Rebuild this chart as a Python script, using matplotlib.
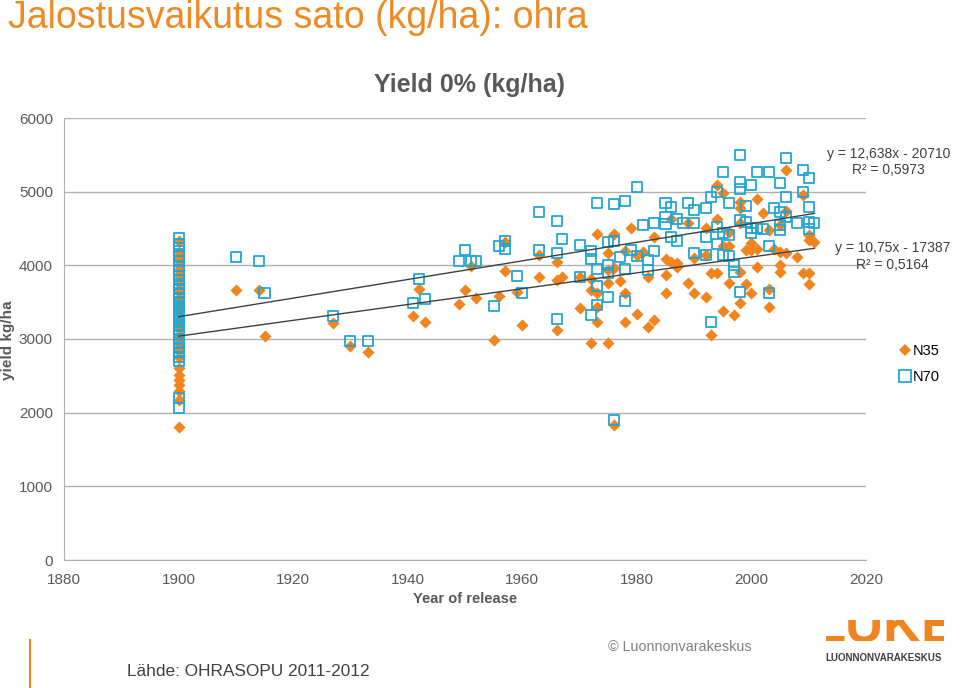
import matplotlib
matplotlib.use('Agg')
import matplotlib.pyplot as plt
from matplotlib.lines import Line2D
import numpy as np

plt.rcParams['font.family'] = ['Liberation Sans Narrow', 'Liberation Sans', 'DejaVu Sans']

# N35 (oranssit vinoneliöt)
n35_year = [1900] * 24 + [
    1910, 1914, 1915, 1927, 1930, 1933, 1941, 1942, 1943,
    1949, 1950, 1951, 1952, 1955, 1956, 1957, 1957, 1959, 1960,
    1963, 1963, 1966, 1966, 1966, 1967, 1970, 1970,
    1972, 1972, 1972, 1973, 1973, 1973, 1973,
    1975, 1975, 1975, 1975, 1976, 1976, 1976,
    1977, 1978, 1978, 1978, 1979, 1980, 1980, 1981, 1982, 1982, 1983, 1983,
    1985, 1985, 1985, 1986, 1986, 1987, 1987, 1989, 1989, 1990, 1990,
    1992, 1992, 1992, 1993, 1993, 1994, 1994, 1994, 1995, 1995, 1995,
    1996, 1996, 1996, 1997,
    1998, 1998, 1998, 1998, 1998, 1999, 1999, 2000, 2000, 2000,
    2001, 2001, 2001, 2002, 2003, 2003, 2003, 2004, 2005, 2005, 2005, 2005,
    2006, 2006, 2006, 2008, 2009, 2009, 2010, 2010, 2010, 2010, 2011]
n35_yield = [
    4330, 4180, 4100, 4000, 3935, 3870, 3760, 3650, 3550, 3450, 3350, 3250,
    3150, 3050, 2950, 2850, 2750, 2606, 2511, 2443, 2375, 2300, 2172, 1805,
    3665, 3665, 3040, 3217, 2905, 2823, 3312, 3678, 3230,
    3475, 3665, 3990, 3556, 2986, 3583, 4316, 3923, 3638, 3190,
    4140, 3841, 4045, 3801, 3122, 3841, 3841, 3421,
    3814, 3665, 2946, 4425, 3624, 3434, 3231,
    4167, 3936, 3760, 2946, 4425, 3964, 1832,
    3787, 4194, 3624, 3231, 4507, 4140, 3339, 4181, 3841, 3163, 4384, 3258,
    4086, 3868, 3624, 4629, 4045, 4031, 3977, 4574, 3760, 4099, 3624,
    4507, 4140, 3570, 3896, 3054, 5090, 4629, 3896, 4982, 4262, 3380,
    4452, 4262, 3760, 3325,
    4860, 4778, 4574, 3909, 3488, 4208, 3746, 4303, 4208, 3624,
    4900, 4221, 3977, 4710, 4480, 3678, 3434, 4221, 4547, 4181, 4004, 3909,
    5294, 4737, 4167, 4113, 4955, 3896, 4411, 4344, 3896, 3746, 4317]

# N70 (siniset neliöt)
n70_year = [1900] * 30 + [
    1910, 1914, 1915, 1927, 1930, 1933, 1941, 1942, 1943,
    1949, 1950, 1951, 1952, 1955, 1956, 1957, 1957, 1959, 1960,
    1963, 1963, 1966, 1966, 1966, 1967, 1970, 1970,
    1972, 1972, 1972, 1973, 1973, 1973, 1973,
    1975, 1975, 1975, 1975, 1976, 1976, 1976, 1977, 1978, 1978, 1978,
    1979, 1980, 1980, 1981, 1982, 1982, 1983, 1983,
    1985, 1985, 1985, 1986, 1986, 1987, 1987, 1988, 1989, 1990, 1990, 1990,
    1992, 1992, 1992, 1993, 1993, 1994, 1994, 1994, 1995, 1995, 1995,
    1996, 1996, 1996, 1997, 1997,
    1998, 1998, 1998, 1998, 1998, 1999, 1999, 2000, 2000, 2000,
    2001, 2001, 2002, 2003, 2003, 2003,
    2004, 2005, 2005, 2005, 2005, 2006, 2006, 2006, 2008, 2009, 2009,
    2010, 2010, 2010, 2010, 2011]
n70_yield = [
    4370, 4290, 4200, 4120, 4060, 3990, 3930, 3860, 3800, 3740, 3680, 3620,
    3560, 3500, 3450, 3390, 3340, 3280, 3230, 3170, 3120, 3060, 3000, 2940,
    2880, 2820, 2760, 2700, 2200, 2060,
    4113, 4059, 3624, 3312, 2973, 2973, 3488, 3814, 3543,
    4059, 4208, 4059, 4059, 3448, 4262, 4330, 4221, 3855, 3624,
    4724, 4208, 4602, 4167, 3271, 4357, 4276, 3841,
    4194, 4086, 3325, 4846, 3950, 3719, 3461,
    4317, 4004, 3896, 3570, 4832, 4330, 1900, 4113, 4873, 3950, 3516,
    4208, 5063, 4126, 4547, 4072, 3936, 4574, 4194,
    4846, 4656, 4561, 4792, 4384, 4629, 4330, 4574, 4846, 4751, 4574, 4167,
    4778, 4384, 4140, 4927, 3231, 5000, 4520, 4289, 5267, 4439, 4140,
    4846, 4411, 4126, 4004, 3909,
    5497, 5131, 5036, 4615, 3638, 4805, 4588, 5090, 4507, 4439,
    5267, 4507, 4493, 5267, 4262, 3624,
    4778, 5117, 4724, 4547, 4480, 5457, 4927, 4656, 4574, 5294, 4990,
    5185, 4792, 4588, 4493, 4574]

# trendiviivat (Excelin kaavat)
trend_n70 = (12.638, -20710)
trend_n35 = (10.75, -17387)
trend_years = [1900, 2011]

orange = '#F0841E'
blue = '#22A6D4'
gray_text = '#595959'

fig = plt.figure(figsize=(9.6, 6.88), dpi=100)
ax = fig.add_axes([64 / 960, 1 - 560 / 688, 802 / 960, 442 / 688])

ax.scatter(n35_year, n35_yield, marker='D', s=38, color=orange, linewidths=0, zorder=3)
ax.scatter(n70_year, n70_yield, marker='s', s=52, facecolors='none', edgecolors=blue,
           linewidths=1.3, zorder=4)

tx = np.array(trend_years)
ax.plot(tx, trend_n70[0] * tx + trend_n70[1], color='#404040', lw=1, zorder=5)
ax.plot(tx, trend_n35[0] * tx + trend_n35[1], color='#404040', lw=1, zorder=5)

ax.set_xlim(1880, 2020)
ax.set_ylim(0, 6000)
ax.set_xticks(range(1880, 2021, 20))
ax.set_yticks(range(0, 6001, 1000))
ax.grid(axis='y', color='#B0B0B0', lw=1)
ax.set_axisbelow(True)
for s in ['top', 'right']:
    ax.spines[s].set_visible(False)
ax.spines['left'].set_color('#B0B0B0')
ax.spines['bottom'].set_color('#B0B0B0')
ax.tick_params(length=0, labelsize=11, colors=gray_text)
ax.tick_params(axis='x', pad=9)
ax.tick_params(axis='y', pad=8)

ax.set_xlabel('Year of release', fontsize=10.5, fontweight='bold', color=gray_text, labelpad=4)
fig.text(8 / 960, 1 - 340 / 688, 'yield kg/ha', rotation=90, fontsize=11, fontweight='bold',
         color=gray_text, ha='center', va='center')
fig.text(469 / 960, 1 - 85 / 688, 'Yield 0% (kg/ha)', fontsize=18, fontweight='bold',
         color=gray_text, ha='center', va='center')

# kaavat
eq_font = dict(family=['Liberation Sans', 'DejaVu Sans'], fontsize=10, color='#404040',
               ha='center', va='center')
fig.text(889 / 960, 1 - 154 / 688, 'y = 12,638x - 20710', **eq_font)
fig.text(888 / 960, 1 - 170 / 688, 'R² = 0,5973', **eq_font)
fig.text(893 / 960, 1 - 248 / 688, 'y = 10,75x - 17387', **eq_font)
fig.text(892 / 960, 1 - 265 / 688, 'R² = 0,5164', **eq_font)

handles = [Line2D([], [], marker='D', ls='none', color=orange, markersize=6, markeredgewidth=0),
           Line2D([], [], marker='s', ls='none', markerfacecolor='none', markeredgecolor=blue,
                  markersize=8, markeredgewidth=1.3)]
fig.legend(handles, ['N35', 'N70'], loc='upper left', bbox_to_anchor=(900 / 960, 1 - 344 / 688),
           frameon=False, handlelength=0.7, handletextpad=0.2, labelspacing=0.8,
           borderpad=0, borderaxespad=0,
           prop={'family': ['Liberation Sans', 'DejaVu Sans'], 'size': 10.5})

# otsikko ja alatunniste
fig.text(8 / 960, 1 - 18 / 688, 'Jalostusvaikutus sato (kg/ha): ohra', fontsize=27,
         color='#EE8A22', ha='left', va='center')
fig.text(127 / 960, 1 - 672 / 688, 'Lähde: OHRASOPU 2011-2012', fontsize=12.4,
         color='#404040', ha='left', va='center')
fig.text(608 / 960, 1 - 647 / 688, '© Luonnonvarakeskus', fontsize=10.4,
         color='#808080', ha='left', va='center')
fig.add_artist(Line2D([30 / 960, 30 / 960], [0, 1 - 640 / 688], color=orange, lw=1.5))

ax_logo = fig.add_axes([826 / 960, 1 - 641 / 688, 118 / 960, 21 / 688])
ax_logo.axis('off')
ax_logo.text(0.5, 0, 'LUKE', fontsize=38, fontweight='bold', color=orange, ha='center',
             va='baseline', transform=ax_logo.transAxes, clip_on=True)
fig.text(884 / 960, 1 - 658 / 688, 'LUONNONVARAKESKUS', fontsize=7, fontweight='bold',
         color='#404040', ha='center', va='center')

fig.savefig('out.png', dpi=100)
